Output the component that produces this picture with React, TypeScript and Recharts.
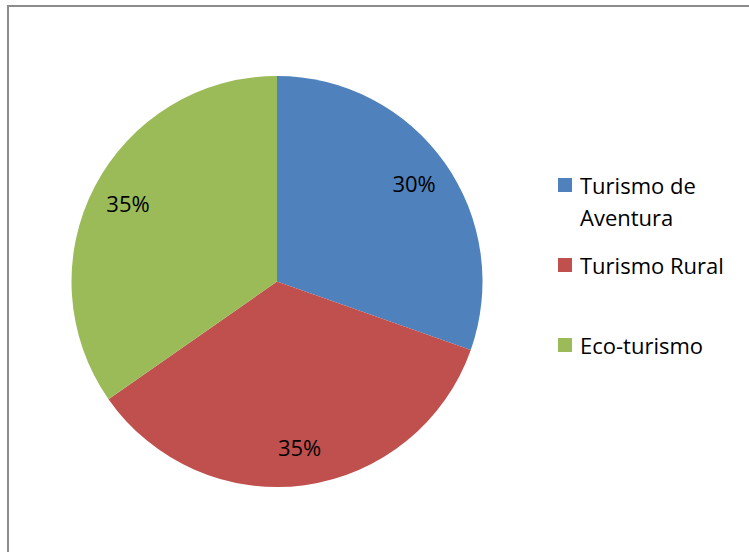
import React from 'react';
import { PieChart, Pie, Cell, Legend } from 'recharts';

const categories = ['Turismo de Aventura', 'Turismo Rural', 'Eco-turismo'];
const shares = [30.4, 34.9, 34.7];
const colors = ['#4F81BD', '#C0504D', '#9BBB59'];

const data = categories.map((name, i) => ({ name, value: shares[i] }));

const FONT = '"Open Sans", "Noto Sans", sans-serif';
const RAD = Math.PI / 180;

const renderLabel = (props: any) => {
  const { cx, cy, midAngle, percent } = props;
  const r = 168;
  const x = cx + r * Math.cos(-midAngle * RAD);
  const y = cy + r * Math.sin(-midAngle * RAD);
  return (
    <text x={x} y={y + 7.8} textAnchor="middle" fill="#000" fontSize={22} fontFamily={FONT}>
      {`${Math.round(percent * 100)}%`}
    </text>
  );
};

const LegendContent = () => (
  <div style={{ fontFamily: FONT, fontSize: 22, lineHeight: '32px', color: '#000' }}>
    {data.map((d, i) => (
      <div key={d.name} style={{ display: 'flex', height: 80 }}>
        <div style={{ width: 14, height: 14, marginTop: 9, background: colors[i], flexShrink: 0 }} />
        <div style={{ marginLeft: 8, width: 160 }}>{d.name}</div>
      </div>
    ))}
  </div>
);

export default function App() {
  return (
    <div style={{ position: 'fixed', left: 0, top: 0, width: 749, height: 552, background: '#fff' }}>
      <div
        style={{
          position: 'absolute',
          left: 7,
          top: 5,
          width: 742,
          height: 547,
          borderTop: '2px solid #8c8c8c',
          borderLeft: '2px solid #8c8c8c',
          boxSizing: 'border-box',
        }}
      />
      <div style={{ position: 'absolute', left: 0, top: 0 }}>
        <PieChart width={749} height={552} margin={{ top: 0, right: 0, bottom: 0, left: 0 }}>
          <Pie
            data={data}
            dataKey="value"
            nameKey="name"
            cx={277}
            cy={281.5}
            outerRadius={205.5}
            startAngle={90}
            endAngle={-270}
            stroke="none"
            label={renderLabel}
            labelLine={false}
            isAnimationActive={false}
          >
            {data.map((d, i) => (
              <Cell key={d.name} fill={colors[i]} />
            ))}
          </Pie>
          <Legend
            layout="vertical"
            align="right"
            verticalAlign="top"
            content={<LegendContent />}
            wrapperStyle={{ left: 558, top: 169, width: 190 }}
          />
        </PieChart>
      </div>
    </div>
  );
}
